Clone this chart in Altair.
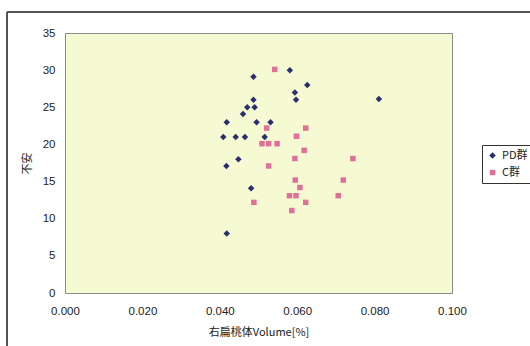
import altair as alt
import pandas as pd

pd_x = [0.0487, 0.0581, 0.0626, 0.0594, 0.0597, 0.0487, 0.0471, 0.0490, 0.0460, 0.0418,
        0.0495, 0.0531, 0.0409, 0.0441, 0.0465, 0.0516, 0.0448, 0.0417, 0.0481, 0.0811, 0.0418]
pd_y = [29.1, 30.0, 28.0, 27.0, 26.0, 26.0, 25.0, 25.0, 24.1, 23.0,
        23.0, 23.0, 21.0, 21.0, 21.0, 21.0, 18.0, 17.1, 14.1, 26.1, 8.0]

c_x = [0.0542, 0.0521, 0.0622, 0.0598, 0.0509, 0.0526, 0.0548, 0.0618, 0.0594, 0.0744,
       0.0526, 0.0595, 0.0719, 0.0607, 0.0580, 0.0597, 0.0706, 0.0622, 0.0488, 0.0586]
c_y = [30.1, 22.2, 22.2, 21.1, 20.1, 20.1, 20.1, 19.2, 18.1, 18.1,
       17.1, 15.2, 15.2, 14.2, 13.1, 13.1, 13.1, 12.2, 12.2, 11.1]

groups = ["PD群", "C群"]
colors = ["#2A2E6E", "#E0709A"]
shapes = ["diamond", "square"]

df = pd.concat([
    pd.DataFrame({"x": pd_x, "y": pd_y, "g": groups[0]}),
    pd.DataFrame({"x": c_x, "y": c_y, "g": groups[1]}),
])

font = "Liberation Sans"
cjk = "Noto Sans CJK JP"

points = alt.Chart(df).mark_point(filled=True, opacity=1).encode(
    x=alt.X("x:Q", scale=alt.Scale(domain=[0, 0.1], nice=False),
            axis=alt.Axis(values=[0, 0.02, 0.04, 0.06, 0.08, 0.1], format=".3f",
                          title="右扁桃体Volume[%]", grid=False, ticks=False, domain=False,
                          labelFlush=False, labelOverlap=False,
                          labelPadding=12, titlePadding=10, labelFont=font, labelFontSize=11.5,
                          labelColor="#222", titleFont=cjk, titleFontSize=11,
                          titleFontWeight="normal", titleColor="#222")),
    y=alt.Y("y:Q", scale=alt.Scale(domain=[0, 35], nice=False),
            axis=alt.Axis(values=[0, 5, 10, 15, 20, 25, 30, 35], title="不安",
                          grid=False, ticks=False, domain=False, labelPadding=10,
                          labelFlush=False, labelOverlap=False,
                          titlePadding=10, labelFont=font, labelFontSize=11.5, labelColor="#222",
                          titleFont=cjk, titleFontSize=11, titleFontWeight="normal",
                          titleColor="#222")),
    color=alt.Color("g:N", scale=alt.Scale(domain=groups, range=colors),
                    legend=alt.Legend(title=None, orient="none", legendX=417, legendY=112,
                                      strokeColor="#333", padding=5, labelFont=cjk,
                                      labelFontSize=11, labelColor="#222", symbolSize=30,
                                      rowPadding=5, labelOffset=4)),
    shape=alt.Shape("g:N", scale=alt.Scale(domain=groups, range=shapes), legend=None),
    size=alt.Size("g:N", scale=alt.Scale(domain=groups, range=[42, 30]), legend=None),
)

frame_left = alt.Chart(df).mark_rule(color="#555", strokeWidth=1, clip=False).encode(
    x=alt.value(-58), y=alt.value(-21), y2=alt.value(320))
frame_top = alt.Chart(df).mark_rule(color="#555", strokeWidth=1, clip=False).encode(
    x=alt.value(-58), x2=alt.value(470), y=alt.value(-21))

chart = alt.layer(frame_left, frame_top, points).properties(
    width=387, height=260,
    autosize=alt.AutoSizeParams(type="none"),
    padding={"left": 65, "top": 33, "right": 78, "bottom": 53},
    background="white",
).configure_view(
    fill="#F5FAD2", stroke="#8a8a8a", strokeWidth=1
)

chart.save("out.html", embed_options={"renderer": "svg", "actions": False})
